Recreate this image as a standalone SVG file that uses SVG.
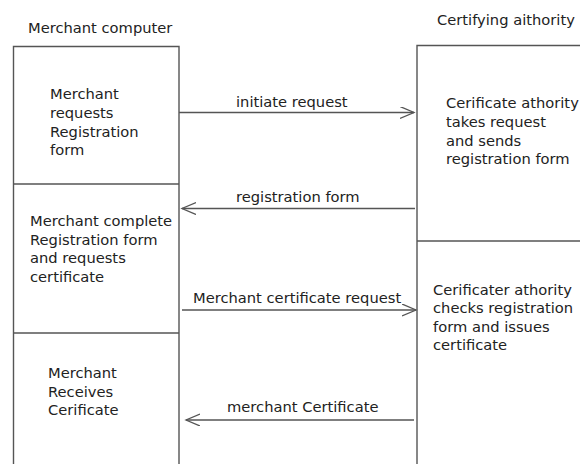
<svg xmlns="http://www.w3.org/2000/svg" width="580" height="464" viewBox="0 0 580 464">
<style>
text{font-family:"DejaVu Sans",Verdana,sans-serif;font-size:14.7px;fill:#222}
.box{fill:none;stroke:#555;stroke-width:1.4}
.con{fill:none;stroke:#555;stroke-width:1.4}
</style>
<defs>
<marker id="ah" markerWidth="16" markerHeight="14" refX="14" refY="6" orient="auto" markerUnits="userSpaceOnUse">
<path d="M0,0 L14,6 L0,12" fill="none" stroke="#555" stroke-width="1.3"/>
</marker>
</defs>
<rect width="580" height="464" fill="#fff"/>
<text x="28" y="33">Merchant computer</text>
<text x="437" y="25">Certifying aithority</text>
<g id="m1">
<path class="box" d="M13.5,466 V46.5 H179 V466"/>
<text x="50" y="99">Merchant</text>
<text x="50" y="118">requests</text>
<text x="50" y="137">Registration</text>
<text x="50" y="155">form</text>
</g>
<g id="m2">
<line class="box" x1="13.5" y1="184" x2="179" y2="184"/>
<text x="30" y="226">Merchant complete</text>
<text x="30" y="245">Registration form</text>
<text x="30" y="263">and requests</text>
<text x="30" y="282">certificate</text>
</g>
<g id="m3">
<line class="box" x1="13.5" y1="333" x2="179" y2="333"/>
<text x="48" y="378">Merchant</text>
<text x="48" y="397">Receives</text>
<text x="48" y="415">Cerificate</text>
</g>
<g id="c1">
<path class="box" d="M417,466 V45.5 H582"/>
<text x="446" y="108">Cerificate athority</text>
<text x="446" y="127">takes request</text>
<text x="446" y="146">and sends</text>
<text x="446" y="164">registration form</text>
</g>
<g id="c2">
<line class="box" x1="417" y1="241" x2="582" y2="241"/>
<text x="433" y="295">Cerificater athority</text>
<text x="433" y="313">checks registration</text>
<text x="433" y="332">form and issues</text>
<text x="433" y="350">certificate</text>
</g>
<g id="connectors">
<line class="con" x1="179" y1="112.5" x2="414" y2="112.5" marker-end="url(#ah)"/>
<text x="236" y="107">initiate request</text>
<line class="con" x1="415" y1="208.5" x2="182" y2="208.5" marker-end="url(#ah)"/>
<text x="236" y="202">registration form</text>
<line class="con" x1="182" y1="310" x2="416" y2="310" marker-end="url(#ah)"/>
<text x="193" y="303">Merchant certificate request</text>
<line class="con" x1="414" y1="420" x2="186" y2="420" marker-end="url(#ah)"/>
<text x="227" y="412">merchant Certificate</text>
</g>
</svg>
